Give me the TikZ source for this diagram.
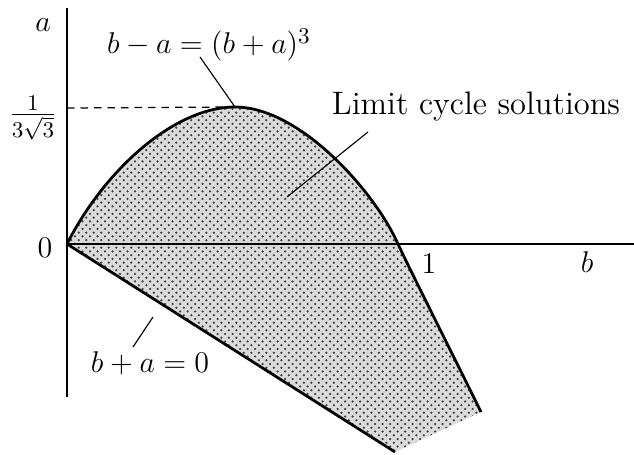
\documentclass[tikz,border=0pt]{standalone}
\usepackage{amsmath}
\usetikzlibrary{patterns}

\begin{document}
\begin{tikzpicture}[
    x=0.4pt, y=0.4pt,
    axis/.style={line width=0.8pt},
    bound/.style={line width=1.1pt, line join=round},
    leader/.style={line width=0.45pt},
    guide/.style={dashed, line width=0.5pt, dash pattern=on 3pt off 2.4pt},
    lbl/.style={font=\fontsize{13}{15}\selectfont, inner sep=1pt}
]
\useasboundingbox (0,0) rectangle (634,454);

% Points of the region
\coordinate (origin) at (67,210);
\coordinate (peak) at (235,347);
\coordinate (cross) at (398,210);
\coordinate (curveend) at (481,42);
\coordinate (lineend) at (395,2);

% Shaded region
\fill[gray!28] (origin) .. controls (105,285) and (175,347) .. (peak)
    .. controls (300,347) and (375,262) .. (cross)
    .. controls (410,184) and (460,85) .. (curveend) -- (lineend) -- cycle;
\fill[pattern=crosshatch dots, pattern color=black!75] (origin) .. controls (105,285) and (175,347) .. (peak)
    .. controls (300,347) and (375,262) .. (cross)
    .. controls (410,184) and (460,85) .. (curveend) -- (lineend) -- cycle;

% Axes
\coordinate (atop) at (67,446);
\coordinate (abot) at (67,57);
\coordinate (bend) at (634,210);
\draw[axis] (abot) -- (atop);
\draw[axis] (origin) -- (bend);

% Boundaries
\draw[bound] (origin) .. controls (105,285) and (175,347) .. (peak)
    .. controls (300,347) and (375,262) .. (cross)
    .. controls (410,184) and (460,85) .. (curveend);
\draw[bound] (origin) -- (lineend);

% Peak level
\coordinate (peaky) at (67,346);
\draw[guide] (peaky) -- (peak);

% Labels
\node[lbl] (alab) at (43,429) {$a$};
\node[lbl] (blab) at (587,192) {$b$};
\node[lbl] (zero) at (45,206) {$0$};
\node[lbl] (one) at (429,190) {$1$};
\node[lbl] (peaklab) at (33,336) {$\frac{1}{3\sqrt{3}}$};
\node[lbl] (curvelab) at (209,409) {$b-a=(b+a)^3$};
\node[lbl] (linelab) at (150,91) {$b+a=0$};
\node[lbl] (regionlab) at (476,347) {Limit cycle solutions};

% Leaders
\coordinate (curvept) at (200,397);
\coordinate (regionpt) at (368,322);
\coordinate (regionin) at (287,257);
\coordinate (linept) at (153,137);
\coordinate (linelow) at (133,107);
\draw[leader] (curvept) -- (peak);
\draw[leader] (regionpt) -- (regionin);
\draw[leader] (linept) -- (linelow);

\end{tikzpicture}
\end{document}
